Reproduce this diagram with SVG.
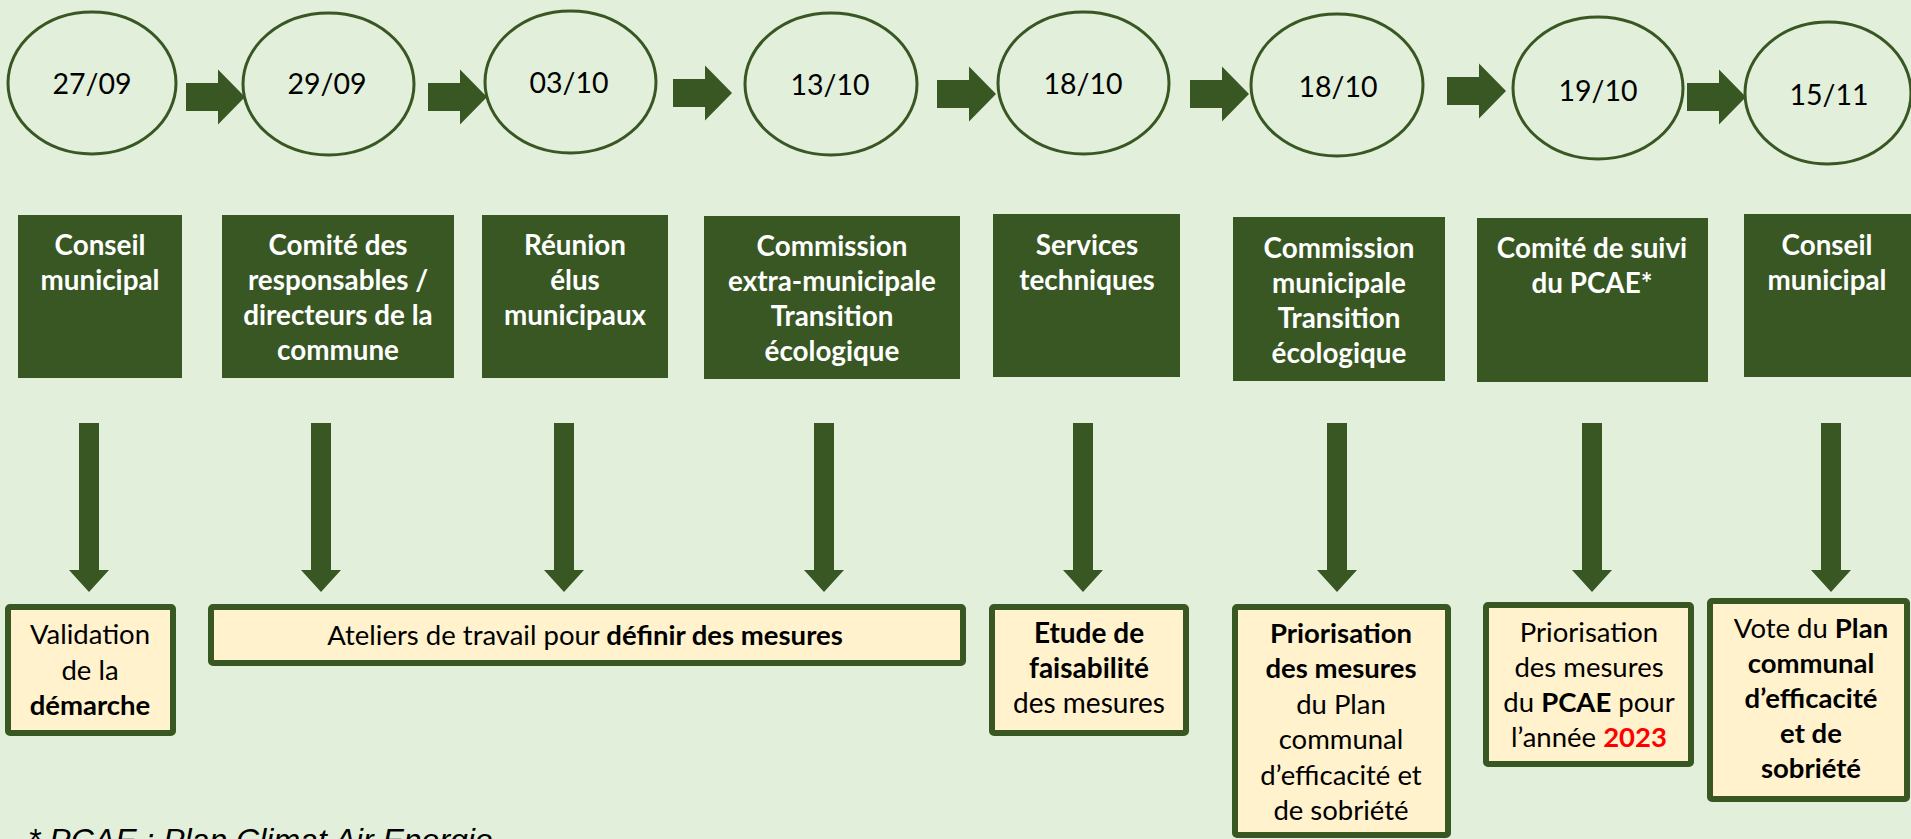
<svg xmlns="http://www.w3.org/2000/svg" xmlns:xlink="http://www.w3.org/1999/xlink" width="1911" height="839" viewBox="0 0 1911 839">
<style>
.bg{fill:#E2EFDA}
.date ellipse{fill:none;stroke:#385723;stroke-width:3}
.date text{font-family:Lato,"Liberation Sans",sans-serif;font-size:28.5px;fill:#000;text-anchor:middle}
.step rect{fill:#385723}
.step text{font-family:Lato,"Liberation Sans",sans-serif;font-size:27.8px;font-weight:bold;fill:#fff;text-anchor:middle}
.out rect{fill:#FFF2CC;stroke:#385723;stroke-width:6}
.out text{font-family:Lato,"Liberation Sans",sans-serif;font-size:27.5px;fill:#000;text-anchor:middle}
.b{font-weight:bold}
.red{fill:#FF0000}
.arr{fill:#385723}
.note{font-family:"Liberation Sans",Arial,sans-serif;font-style:italic;font-size:32px;fill:#000}
</style>
<defs>
<path id="rarrow" d="M0,-14 H32 V-27.5 L59,0 L32,27.5 V14 H0 Z"/>
<path id="darrow" d="M-10,0 H10 V147 H20 L0,169 L-20,147 H-10 Z"/>
</defs>
<rect class="bg" x="0" y="0" width="1911" height="839"/>

<g id="date-1" class="date"><ellipse cx="92" cy="83" rx="84" ry="71"/><text x="92" y="94">27/09</text></g>
<g id="date-2" class="date"><ellipse cx="328.5" cy="84" rx="85.5" ry="71"/><text x="327" y="94">29/09</text></g>
<g id="date-3" class="date"><ellipse cx="570.5" cy="82" rx="85.5" ry="71"/><text x="569" y="93">03/10</text></g>
<g id="date-4" class="date"><ellipse cx="831" cy="84" rx="86" ry="71"/><text x="830" y="95">13/10</text></g>
<g id="date-5" class="date"><ellipse cx="1083.5" cy="83" rx="85.5" ry="71"/><text x="1083" y="94">18/10</text></g>
<g id="date-6" class="date"><ellipse cx="1337" cy="85" rx="86" ry="71"/><text x="1338" y="97">18/10</text></g>
<g id="date-7" class="date"><ellipse cx="1598" cy="88" rx="85" ry="71"/><text x="1598" y="101">19/10</text></g>
<g id="date-8" class="date"><ellipse cx="1828" cy="93" rx="83" ry="71"/><text x="1829" y="105">15/11</text></g>

<g id="step-1" class="step"><rect x="18" y="215" width="164" height="163"/><text x="100" y="255"><tspan x="100">Conseil</tspan><tspan x="100" dy="35">municipal</tspan></text></g>
<g id="step-2" class="step"><rect x="222" y="215" width="232" height="163"/><text x="338" y="255"><tspan x="338">Comité des</tspan><tspan x="338" dy="35">responsables /</tspan><tspan x="338" dy="35">directeurs de la</tspan><tspan x="338" dy="35">commune</tspan></text></g>
<g id="step-3" class="step"><rect x="482" y="215" width="186" height="163"/><text x="575" y="255"><tspan x="575">Réunion</tspan><tspan x="575" dy="35">élus</tspan><tspan x="575" dy="35">municipaux</tspan></text></g>
<g id="step-4" class="step"><rect x="704" y="216" width="256" height="163"/><text x="832" y="256"><tspan x="832">Commission</tspan><tspan x="832" dy="35">extra-municipale</tspan><tspan x="832" dy="35">Transition</tspan><tspan x="832" dy="35">écologique</tspan></text></g>
<g id="step-5" class="step"><rect x="993" y="214" width="187" height="163"/><text x="1087" y="255"><tspan x="1087">Services</tspan><tspan x="1087" dy="35">techniques</tspan></text></g>
<g id="step-6" class="step"><rect x="1233" y="217" width="212" height="164"/><text x="1339" y="258"><tspan x="1339">Commission</tspan><tspan x="1339" dy="35">municipale</tspan><tspan x="1339" dy="35">Transition</tspan><tspan x="1339" dy="35">écologique</tspan></text></g>
<g id="step-7" class="step"><rect x="1477" y="218" width="231" height="164"/><text x="1592" y="258"><tspan x="1592">Comité de suivi</tspan><tspan x="1592" dy="35">du PCAE*</tspan></text></g>
<g id="step-8" class="step"><rect x="1744" y="214" width="167" height="163"/><text x="1827" y="255"><tspan x="1827">Conseil</tspan><tspan x="1827" dy="35">municipal</tspan></text></g>

<g id="connectors" class="arr">
<use xlink:href="#rarrow" transform="translate(186,97)"/>
<use xlink:href="#rarrow" transform="translate(428,97)"/>
<use xlink:href="#rarrow" transform="translate(673,93)"/>
<use xlink:href="#rarrow" transform="translate(937,94)"/>
<use xlink:href="#rarrow" transform="translate(1190,94)"/>
<use xlink:href="#rarrow" transform="translate(1447,91)"/>
<use xlink:href="#rarrow" transform="translate(1687,97)"/>
<use xlink:href="#darrow" transform="translate(89,423)"/>
<use xlink:href="#darrow" transform="translate(321,423)"/>
<use xlink:href="#darrow" transform="translate(564,423)"/>
<use xlink:href="#darrow" transform="translate(824,423)"/>
<use xlink:href="#darrow" transform="translate(1083,423)"/>
<use xlink:href="#darrow" transform="translate(1337,423)"/>
<use xlink:href="#darrow" transform="translate(1592,423)"/>
<use xlink:href="#darrow" transform="translate(1831,423)"/>
</g>

<g id="out-1" class="out"><rect x="8" y="607" width="165" height="126" rx="2"/><text x="90" y="644"><tspan x="90">Validation</tspan><tspan x="90" dy="35.5">de la</tspan><tspan x="90" dy="35.5" class="b">démarche</tspan></text></g>
<g id="out-2" class="out"><rect x="211" y="607" width="752" height="56" rx="2"/><text x="585" y="645">Ateliers de travail pour <tspan class="b">définir des mesures</tspan></text></g>
<g id="out-3" class="out"><rect x="992" y="607" width="194" height="126" rx="2"/><text x="1089" y="643" style="font-size:28px"><tspan x="1089" class="b">Etude de</tspan><tspan x="1089" dy="35" class="b">faisabilité</tspan><tspan x="1089" dy="35">des mesures</tspan></text></g>
<g id="out-4" class="out"><rect x="1235" y="607" width="213" height="228" rx="2"/><text x="1341" y="643"><tspan x="1341" class="b">Priorisation</tspan><tspan x="1341" dy="35.4" class="b">des mesures</tspan><tspan x="1341" dy="35.4">du Plan</tspan><tspan x="1341" dy="35.4">communal</tspan><tspan x="1341" dy="35.4">d’efficacité et</tspan><tspan x="1341" dy="35.4">de sobriété</tspan></text></g>
<g id="out-5" class="out"><rect x="1486" y="605" width="205" height="159" rx="2"/><text x="1589" y="642"><tspan x="1589">Priorisation</tspan><tspan x="1589" dy="35">des mesures</tspan><tspan x="1589" dy="35">du <tspan class="b">PCAE</tspan> pour</tspan><tspan x="1589" dy="35">l’année <tspan class="b red">2023</tspan></tspan></text></g>
<g id="out-6" class="out"><rect x="1710" y="601" width="197" height="198" rx="2"/><text x="1811" y="638"><tspan x="1811">Vote du <tspan class="b">Plan</tspan></tspan><tspan x="1811" dy="35" class="b">communal</tspan><tspan x="1811" dy="35" class="b">d’efficacité</tspan><tspan x="1811" dy="35" class="b">et de</tspan><tspan x="1811" dy="35" class="b">sobriété</tspan></text></g>

<text class="note" x="28" y="851">* PCAE : Plan Climat Air Energie</text>
</svg>
